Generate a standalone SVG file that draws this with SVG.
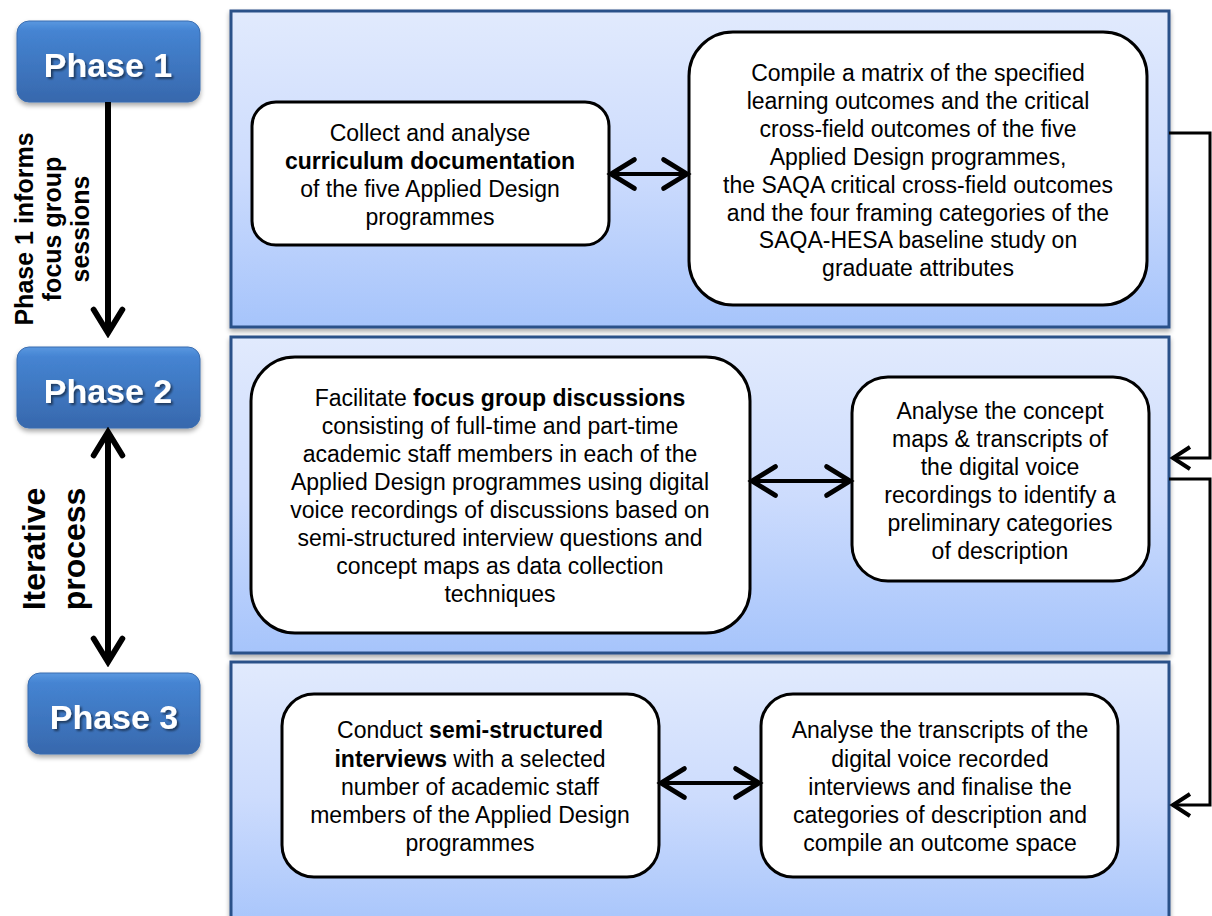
<svg xmlns="http://www.w3.org/2000/svg" width="1212" height="916" viewBox="0 0 1212 916">
  <defs>
    <linearGradient id="panelFill" x1="0" y1="0" x2="0" y2="1">
      <stop offset="0" stop-color="#e1eafd"/>
      <stop offset="0.5" stop-color="#cddcfd"/>
      <stop offset="1" stop-color="#a6c4fb"/>
    </linearGradient>
    <linearGradient id="phaseFill" x1="0" y1="0" x2="0" y2="1">
      <stop offset="0" stop-color="#5a98e0"/>
      <stop offset="0.12" stop-color="#4584d2"/>
      <stop offset="1" stop-color="#3768ad"/>
    </linearGradient>
    <filter id="shadow" x="-10%" y="-10%" width="130%" height="140%">
      <feGaussianBlur in="SourceAlpha" stdDeviation="2.5"/>
      <feOffset dx="0" dy="3" result="b"/>
      <feComponentTransfer><feFuncA type="linear" slope="0.35"/></feComponentTransfer>
      <feMerge><feMergeNode/><feMergeNode in="SourceGraphic"/></feMerge>
    </filter>
    <filter id="textShadow" x="-10%" y="-20%" width="130%" height="150%">
      <feGaussianBlur in="SourceAlpha" stdDeviation="1"/>
      <feOffset dx="1.5" dy="2" result="b"/>
      <feComponentTransfer><feFuncA type="linear" slope="0.5"/></feComponentTransfer>
      <feMerge><feMergeNode/><feMergeNode in="SourceGraphic"/></feMerge>
    </filter>
    <marker id="chev" viewBox="0 0 20 20" refX="17" refY="10" markerWidth="6" markerHeight="6" orient="auto-start-reverse" markerUnits="strokeWidth">
      <path d="M4 2 L17 10 L4 18" fill="none" stroke="#000" stroke-width="3.2" stroke-linecap="round" stroke-linejoin="miter"/>
    </marker>
    <marker id="chevThin" viewBox="0 0 20 20" refX="17" refY="10" markerWidth="9" markerHeight="9" orient="auto-start-reverse" markerUnits="strokeWidth">
      <path d="M4 2 L17 10 L4 18" fill="none" stroke="#000" stroke-width="2.7" stroke-linecap="round"/>
    </marker>
  </defs>
  <style>
    .panel { fill: url(#panelFill); stroke: #2b5189; stroke-width: 3; filter: url(#shadow); }
    .phase { fill: url(#phaseFill); stroke: #3a6db0; stroke-width: 1; filter: url(#shadow); }
    .phaseText { font-family: "Liberation Sans", Arial, sans-serif; font-weight: bold; font-size: 34px; fill: #ffffff; text-anchor: middle; filter: url(#textShadow); }
    .node { fill: #ffffff; stroke: #000000; stroke-width: 3; }
    .txt { font-family: "Liberation Sans", Arial, sans-serif; font-size: 23px; fill: #000000; text-anchor: middle; }
    .b { font-weight: bold; }
    .side { font-family: "Liberation Sans", Arial, sans-serif; font-weight: bold; fill: #000000; text-anchor: middle; }
    .arrowBig { fill: none; stroke: #000; stroke-width: 6; }
    .arrowMid { fill: none; stroke: #000; stroke-width: 4; }
    .feedback { fill: none; stroke: #000; stroke-width: 3; }
  </style>

  <!-- phase panels -->
  <g id="panel1"><rect class="panel" x="231" y="11" width="938" height="316"/></g>
  <g id="panel2"><rect class="panel" x="231" y="337" width="938" height="316"/></g>
  <g id="panel3"><rect class="panel" x="231" y="662" width="938" height="270"/></g>

  <!-- phase labels -->
  <g id="phase1"><rect class="phase" x="17" y="21" width="183" height="81" rx="12"/><text class="phaseText" x="108" y="77">Phase 1</text></g>
  <g id="phase2"><rect class="phase" x="17" y="347" width="183" height="81" rx="12"/><text class="phaseText" x="108" y="403">Phase 2</text></g>
  <g id="phase3"><rect class="phase" x="28" y="673" width="172" height="81" rx="12"/><text class="phaseText" x="114" y="729">Phase 3</text></g>

  <!-- side notes -->
  <g id="note1">
    <text class="side" font-size="25" transform="translate(33 229) rotate(-90)">Phase 1 informs</text>
    <text class="side" font-size="25" transform="translate(61 229) rotate(-90)">focus group</text>
    <text class="side" font-size="25" transform="translate(89 229) rotate(-90)">sessions</text>
  </g>
  <g id="note2">
    <text class="side" font-size="32" transform="translate(45 549) rotate(-90)">Iterative</text>
    <text class="side" font-size="32" transform="translate(85 549) rotate(-90)">process</text>
  </g>

  <!-- process steps -->
  <g id="collect">
    <rect class="node" x="252" y="102" width="357" height="143" rx="24"/>
    <text class="txt" x="430" y="141">Collect and analyse</text>
    <text class="txt b" x="430" y="169">curriculum documentation</text>
    <text class="txt" x="430" y="197">of the five Applied Design</text>
    <text class="txt" x="430" y="225">programmes</text>
  </g>
  <g id="matrix">
    <rect class="node" x="689" y="32" width="458" height="273" rx="44"/>
    <text class="txt" x="918" y="81">Compile a matrix of the specified</text>
    <text class="txt" x="918" y="109">learning outcomes and the critical</text>
    <text class="txt" x="918" y="137">cross-field outcomes of the five</text>
    <text class="txt" x="918" y="165">Applied Design programmes,</text>
    <text class="txt" x="918" y="193">the SAQA critical cross-field outcomes</text>
    <text class="txt" x="918" y="221">and the four framing categories of the</text>
    <text class="txt" x="918" y="248">SAQA-HESA baseline study on</text>
    <text class="txt" x="918" y="276">graduate attributes</text>
  </g>
  <g id="focus">
    <rect class="node" x="251" y="357" width="499" height="276" rx="44"/>
    <text class="txt" x="500" y="406">Facilitate <tspan class="b">focus group discussions</tspan></text>
    <text class="txt" x="500" y="434">consisting of full-time and part-time</text>
    <text class="txt" x="500" y="462">academic staff members in each of the</text>
    <text class="txt" x="500" y="490">Applied Design programmes using digital</text>
    <text class="txt" x="500" y="518">voice recordings of discussions based on</text>
    <text class="txt" x="500" y="546">semi-structured interview questions and</text>
    <text class="txt" x="500" y="574">concept maps as data collection</text>
    <text class="txt" x="500" y="602">techniques</text>
  </g>
  <g id="analyseMaps">
    <rect class="node" x="852" y="377" width="297" height="204" rx="36"/>
    <text class="txt" x="1000" y="419">Analyse the concept</text>
    <text class="txt" x="1000" y="447">maps &amp; transcripts of</text>
    <text class="txt" x="1000" y="475">the digital voice</text>
    <text class="txt" x="1000" y="503">recordings to identify a</text>
    <text class="txt" x="1000" y="531">preliminary categories</text>
    <text class="txt" x="1000" y="559">of description</text>
  </g>
  <g id="interviews">
    <rect class="node" x="282" y="694" width="377" height="183" rx="32"/>
    <text class="txt" x="470" y="738">Conduct <tspan class="b">semi-structured</tspan></text>
    <text class="txt" x="470" y="767"><tspan class="b">interviews</tspan> with a selected</text>
    <text class="txt" x="470" y="795">number of academic staff</text>
    <text class="txt" x="470" y="823">members of the Applied Design</text>
    <text class="txt" x="470" y="851">programmes</text>
  </g>
  <g id="finalise">
    <rect class="node" x="761" y="694" width="357" height="183" rx="32"/>
    <text class="txt" x="940" y="738">Analyse the transcripts of the</text>
    <text class="txt" x="940" y="767">digital voice recorded</text>
    <text class="txt" x="940" y="795">interviews and finalise the</text>
    <text class="txt" x="940" y="823">categories of description and</text>
    <text class="txt" x="940" y="851">compile an outcome space</text>
  </g>

  <!-- connectors -->
  <g id="connectors">
    <line class="arrowBig" x1="108" y1="102" x2="108" y2="333" marker-end="url(#chev)"/>
    <line class="arrowBig" x1="108" y1="432" x2="108" y2="662" marker-start="url(#chev)" marker-end="url(#chev)"/>
    <line class="arrowMid" x1="611" y1="174" x2="687" y2="174" marker-start="url(#chevThin)" marker-end="url(#chevThin)"/>
    <line class="arrowMid" x1="752" y1="481" x2="850" y2="481" marker-start="url(#chevThin)" marker-end="url(#chevThin)"/>
    <line class="arrowMid" x1="661" y1="783" x2="759" y2="783" marker-start="url(#chevThin)" marker-end="url(#chevThin)"/>
    <path class="feedback" d="M1169 133 H1210 V458 H1172"/>
    <path class="feedback" d="M1169 479 H1210 V805 H1172"/>
    <path class="arrowMid" d="M1190 447 L1173 458 L1190 469"/>
    <path class="arrowMid" d="M1190 794 L1173 805 L1190 816"/>
  </g>
</svg>
